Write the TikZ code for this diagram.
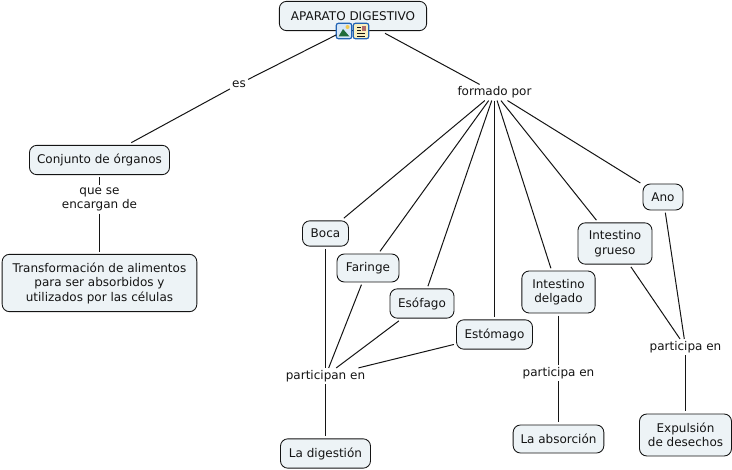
\documentclass[tikz,border=0pt]{standalone}
\usepackage{fontspec}
\setmainfont{DejaVu Sans}
\usepackage{xcolor}
\definecolor{ink}{HTML}{141414}
\definecolor{boxFill}{HTML}{EDF3F6}
\definecolor{iconBlue}{HTML}{2364B4}
\definecolor{iconSoft}{HTML}{D5E6F7}
\definecolor{hillGreen}{HTML}{1F6B3A}
\definecolor{sunYellow}{HTML}{F0C850}
\definecolor{paperYellow}{HTML}{F8EFC0}
\definecolor{thumbRed}{HTML}{B06A6A}
\usetikzlibrary{positioning}

\begin{document}
\begin{tikzpicture}[
  x=0.75pt, y=-0.75pt,
  font=\fontsize{9pt}{10.9pt}\selectfont,
  every node/.style={align=center, text=ink},
  concept/.style={rectangle, draw=ink, fill=boxFill, line width=0.65pt,
    rounded corners=5.5pt, inner sep=0pt, outer sep=2pt},
  phrase/.style={rectangle, inner sep=1.5pt},
  link/.style={line width=0.75pt, color=ink},
  icon/.style={rectangle, draw=iconBlue, line width=0.9pt,
    rounded corners=1.5pt, minimum width=11.5pt, minimum height=11.5pt, inner sep=0pt, outer sep=0pt},
]
  \useasboundingbox (0,0) rectangle (732,470);

  % concepts
  \node[concept, minimum width=110.5pt, minimum height=22pt] (aparato) at (353,16) {APARATO DIGESTIVO};
  \node[concept, minimum width=105pt, minimum height=22pt] (conjunto) at (99.5,160) {Conjunto de órganos};
  \node[concept, minimum width=146pt, minimum height=43pt] (transf) at (99.5,283) {Transformación de alimentos\\para ser absorbidos y\\utilizados por las células};
  \node[concept, minimum width=34.5pt, minimum height=19pt] (boca) at (325.5,233.5) {Boca};
  \node[concept, minimum width=46.5pt, minimum height=21pt] (faringe) at (368,268) {Faringe};
  \node[concept, minimum width=48pt, minimum height=22pt] (esofago) at (422,303.5) {Esófago};
  \node[concept, minimum width=57pt, minimum height=22pt] (estomago) at (494.5,334.5) {Estómago};
  \node[concept, minimum width=55pt, minimum height=31.5pt] (delgado) at (558.5,292) {Intestino\\delgado};
  \node[concept, minimum width=55.5pt, minimum height=31pt] (grueso) at (615,243.5) {Intestino\\grueso};
  \node[concept, minimum width=30pt, minimum height=19.5pt] (ano) at (663,197) {Ano};
  \node[concept, minimum width=67.5pt, minimum height=22pt] (digestion) at (325.5,453.5) {La digestión};
  \node[concept, minimum width=68pt, minimum height=21pt] (absorcion) at (558.5,439) {La absorción};
  \node[concept, minimum width=69pt, minimum height=31.5pt] (expulsion) at (685.5,435) {Expulsión\\de desechos};

  % linking phrases
  \node[phrase] (es) at (239,84) {es};
  \node[phrase] (formado) at (494.5,92.5) {formado por};
  \node[phrase] (encargan) at (99.5,199.5) {que se\\encargan de};
  \node[phrase] (participan) at (325.5,376) {participan en};
  \node[phrase] (participaA) at (558.5,373) {participa en};
  \node[phrase] (participaB) at (685.5,347) {participa en};

  % icons on the top concept
  \node[icon, fill=iconSoft] (iconImage) at (344,31) {};
  \node[icon, fill=paperYellow] (iconText) at (361,31) {};
  \fill[hillGreen] (338.5,36.5) -- (343,29) -- (349.5,36.5) -- cycle;
  \fill[sunYellow] (347.5,27) circle (2);
  \foreach \y in {27,30,33,36}
    \draw[ink, line width=0.55pt] (357,\y) -- (361,\y);
  \draw[ink, line width=0.55pt] (357,36) -- (365,36);
  \draw[ink, line width=0.55pt] (357,33) -- (365,33);
  \fill[thumbRed] (362,26) rectangle (366,31);

  \draw[link] (es) -- (iconImage);
  \draw[link] (es) -- (conjunto);
  \draw[link] (aparato) -- (formado);
  \draw[link] (conjunto) -- (encargan);
  \draw[link] (encargan) -- (transf);

  \foreach \target in {boca, faringe, esofago, estomago, delgado, grueso, ano}
    \draw[link] (formado) -- (\target);
  \foreach \source in {boca, faringe, esofago, estomago}
    \draw[link] (\source) -- (participan);
  \draw[link] (participan) -- (digestion);
  \draw[link] (delgado) -- (participaA);
  \draw[link] (participaA) -- (absorcion);
  \draw[link] (grueso) -- (participaB);
  \draw[link] (ano) -- (participaB);
  \draw[link] (participaB) -- (expulsion);
\end{tikzpicture}
\end{document}
